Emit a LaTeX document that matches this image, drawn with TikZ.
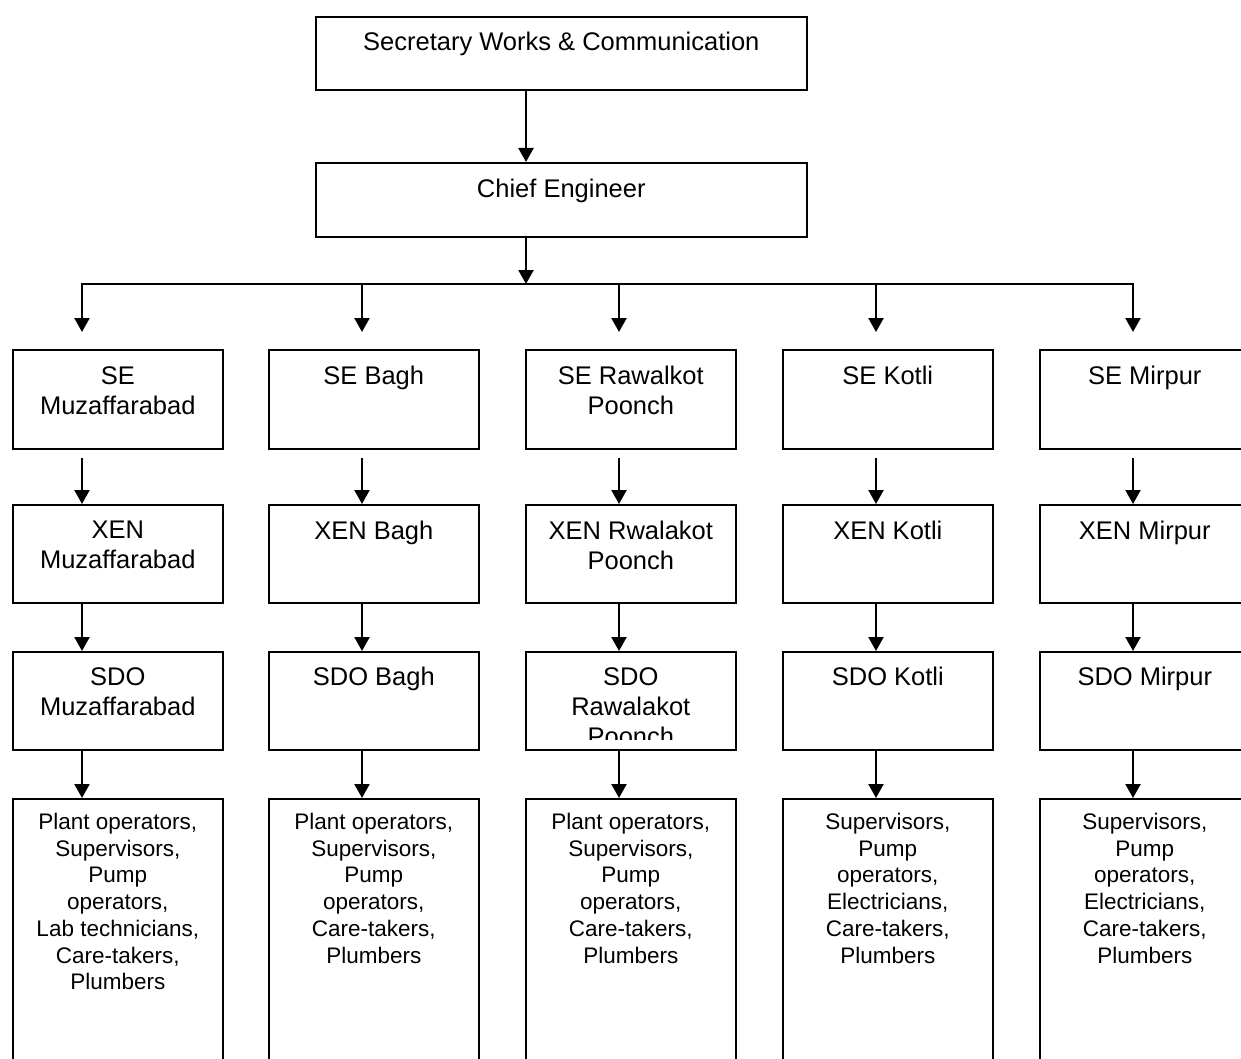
\documentclass[tikz,border=0pt]{standalone}
\usepackage{fontspec}
\setmainfont{Liberation Sans}
\usetikzlibrary{arrows.meta}
\begin{document}
\begin{tikzpicture}[x=1pt,y=-1pt,
  box/.style={draw, line width=1.6pt, rectangle, inner sep=0pt, anchor=north west,
              minimum width=210pt, minimum height=98pt},
  big/.style={box, minimum width=491pt, minimum height=73pt},
  lbl/.style={anchor=north, align=center, inner sep=0pt, font=\fontsize{25.5}{30}\selectfont,
              execute at begin node={\rule{0pt}{20pt}}},
  sm/.style={anchor=north, align=center, inner sep=0pt, font=\fontsize{22.5}{26.7}\selectfont,
              execute at begin node={\rule{0pt}{18pt}}},
  arr/.style={line width=2.2pt, -{Triangle[width=15pt,length=14pt]}},
  barline/.style={line width=2.5pt, line cap=rect}]
\useasboundingbox (0,0) rectangle (1241,1059);
\clip (0,0) rectangle (1241,1059);
\fill[white] (0,0) rectangle (1241,1059);

% top boxes
\node[big] (sec) at (315,16) {};
\node[lbl] (tsec) at ([yshift=-14pt]sec.north) {Secretary Works \& Communication};
\node[big, minimum height=74pt] (chief) at (315,162) {};
\node[lbl] (tchief) at ([yshift=-15pt]chief.north) {Chief Engineer};

\coordinate (cx) at (526,284);
\draw[arr] (cx |- sec.south) -- (cx |- chief.north);
\draw[arr] (cx |- chief.south) -- (cx);

% columns
\foreach \i/\x/\a in {1/12/82, 2/268/362, 3/525/619, 4/782/876, 5/1039/1133} {
  \node[box, minimum height=99pt] (se\i) at (\x,349) {};
  \node[box] (xen\i) at (\x,504) {};
  \node[box] (sdo\i) at (\x,651) {};
  \node[box, minimum height=330pt] (st\i) at (\x,798) {};
  \coordinate (c\i) at (\a,284);
  \draw[arr, shorten >=17pt] (c\i) -- (c\i |- se\i.north);
  \draw[arr, shorten <=8pt] (c\i |- se\i.south) -- (c\i |- xen\i.north);
  \draw[arr] (c\i |- xen\i.south) -- (c\i |- sdo\i.north);
  \draw[arr] (c\i |- sdo\i.south) -- (c\i |- st\i.north);
}
\draw[barline] (c1) -- (c5);

% SE labels
\node[lbl] (tse1) at ([yshift=-17pt]se1.north) {SE\\Muzaffarabad};
\node[lbl] (tse2) at ([yshift=-15pt]se2.north) {SE Bagh};
\node[lbl] (tse3) at ([yshift=-17pt]se3.north) {SE Rawalkot\\Poonch};
\node[lbl] (tse4) at ([yshift=-15pt]se4.north) {SE Kotli};
\node[lbl] (tse5) at ([yshift=-15pt]se5.north) {SE Mirpur};

% XEN labels
\node[lbl] (txen1) at ([yshift=-17pt]xen1.north) {XEN\\Muzaffarabad};
\node[lbl] (txen2) at ([yshift=-15pt]xen2.north) {XEN Bagh};
\node[lbl] (txen3) at ([yshift=-17pt]xen3.north) {XEN Rwalakot\\Poonch};
\node[lbl] (txen4) at ([yshift=-15pt]xen4.north) {XEN Kotli};
\node[lbl] (txen5) at ([yshift=-15pt]xen5.north) {XEN Mirpur};

% SDO labels
\node[lbl] (tsdo1) at ([yshift=-16pt]sdo1.north) {SDO\\Muzaffarabad};
\node[lbl] (tsdo2) at ([yshift=-14pt]sdo2.north) {SDO Bagh};
\begin{scope}
  \clip (sdo3.north west) rectangle ([yshift=11pt]sdo3.south east);
  \node[lbl] (tsdo3) at ([yshift=-16pt]sdo3.north) {SDO\\Rawalakot\\Poonch};
\end{scope}
\node[lbl] (tsdo4) at ([yshift=-14pt]sdo4.north) {SDO Kotli};
\node[lbl] (tsdo5) at ([yshift=-14pt]sdo5.north) {SDO Mirpur};

% staff lists
\node[sm] (tst1) at ([yshift=-15pt]st1.north) {Plant operators,\\Supervisors,\\Pump\\operators,\\Lab technicians,\\Care-takers,\\Plumbers};
\node[sm] (tst2) at ([yshift=-15pt]st2.north) {Plant operators,\\Supervisors,\\Pump\\operators,\\Care-takers,\\Plumbers};
\node[sm] (tst3) at ([yshift=-15pt]st3.north) {Plant operators,\\Supervisors,\\Pump\\operators,\\Care-takers,\\Plumbers};
\node[sm] (tst4) at ([yshift=-15pt]st4.north) {Supervisors,\\Pump\\operators,\\Electricians,\\Care-takers,\\Plumbers};
\node[sm] (tst5) at ([yshift=-15pt]st5.north) {Supervisors,\\Pump\\operators,\\Electricians,\\Care-takers,\\Plumbers};
\end{tikzpicture}
\end{document}
